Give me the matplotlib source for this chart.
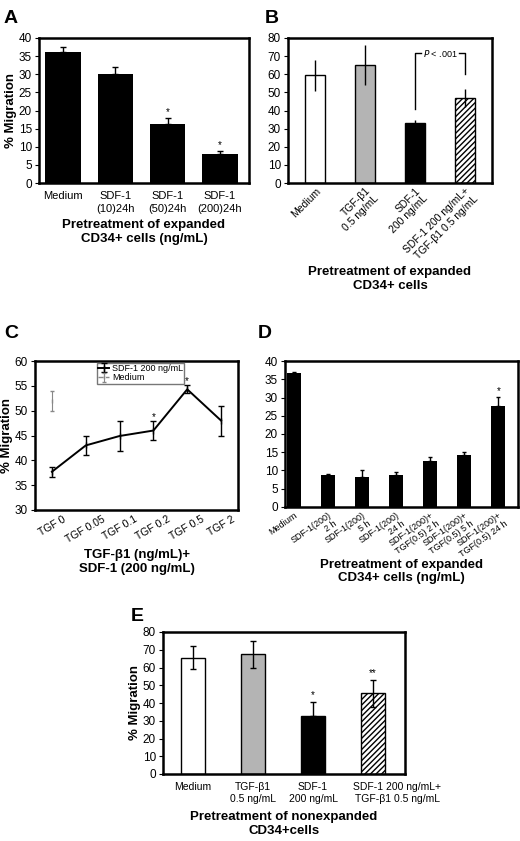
import numpy as np
import matplotlib
matplotlib.use("Agg")
import matplotlib.pyplot as plt

plt.rcParams['font.family'] = ['Liberation Sans', 'DejaVu Sans']
plt.rcParams['hatch.linewidth'] = 1.0

# Panel A data
a_labels = ["Medium", "SDF-1\n(10)24h", "SDF-1\n(50)24h", "SDF-1\n(200)24h"]
a_values = [36.2, 30.2, 16.2, 8.0]
a_err = [1.3, 1.8, 1.7, 0.9]
a_stars = ["", "", "*", "*"]

# Panel B data
b_labels = ["Medium", "TGF-β1\n0.5 ng/mL", "SDF-1\n200 ng/mL", "SDF-1 200 ng/mL+\nTGF-β1 0.5 ng/mL"]
b_values = [59.5, 65.0, 33.0, 47.0]
b_err = [8.5, 11.0, 1.8, 5.0]

# Panel C data
c_labels = ["TGF 0", "TGF 0.05", "TGF 0.1", "TGF 0.2", "TGF 0.5", "TGF 2"]
c_values = [37.7, 43.0, 44.9, 46.0, 54.3, 48.0]
c_err = [1.0, 2.0, 3.0, 2.0, 0.8, 3.0]
c_stars = ["", "", "", "*", "*", ""]
c_medium = 52.0
c_medium_err = 2.0

# Panel D data
d_labels = ["Medium", "SDF-1(200)\n2 h", "SDF-1(200)\n5 h", "SDF-1(200)\n24 h",
            "SDF-1(200)+\nTGF(0.5) 2 h", "SDF-1(200)+\nTGF(0.5) 5 h", "SDF-1(200)+\nTGF(0.5) 24 h"]
d_values = [36.8, 8.7, 8.3, 8.7, 12.5, 14.3, 27.7]
d_err = [0.3, 0.3, 1.9, 1.0, 1.2, 0.8, 2.4]
d_stars = ["", "", "", "", "", "", "*"]

# Panel E data
e_labels = ["Medium", "TGF-β1\n0.5 ng/mL", "SDF-1\n200 ng/mL", "SDF-1 200 ng/mL+\nTGF-β1 0.5 ng/mL"]
e_values = [65.5, 67.5, 32.5, 45.5]
e_err_lo = [6.5, 7.5, 0.0, 7.5]
e_err_hi = [6.5, 7.5, 8.0, 7.5]
e_stars = ["", "", "*", "**"]

fills = ["white", "#b4b4b4", "black", "white"]
hatches = [None, None, None, "//////"]

W, H = 520, 841
fig = plt.figure(figsize=(5.2, 8.41), dpi=100)


def make_axes(left, right, top, bottom):
    ax = fig.add_axes([left / W, 1 - bottom / H, (right - left) / W, (bottom - top) / H])
    for s in ax.spines.values():
        s.set_linewidth(1.8)
    ax.tick_params(axis="y", labelsize=8.5, length=3, width=0.8, pad=2)
    return ax


def letter(x, y, s):
    fig.text(x / W, 1 - y / H, s, fontsize=14, fontweight="bold", va="top", ha="left")


# ---- A ----
ax = make_axes(39, 249, 38, 183)
x = np.arange(len(a_values))
ax.bar(x, a_values, width=0.68, color="black")
ax.errorbar(x, a_values, yerr=[np.zeros(len(a_err)), a_err], fmt="none",
            ecolor="black", elinewidth=1, capsize=2.5)
for i, s in enumerate(a_stars):
    if s:
        ax.text(x[i], a_values[i] + a_err[i] + 0.2, s, ha="center", va="bottom", fontsize=7)
ax.set_xlim(-0.46, 3.56)
ax.set_ylim(0, 40)
ax.set_yticks(range(0, 41, 5))
ax.set_xticks(x)
ax.set_xticklabels(a_labels, fontsize=8, linespacing=1.3)
ax.tick_params(axis="x", length=0, pad=6)
ax.set_ylabel("% Migration", fontsize=9.5, fontweight="bold", labelpad=1)
ax.set_xlabel("Pretreatment of expanded\nCD34+ cells (ng/mL)", fontsize=9.5,
              fontweight="bold", labelpad=4)
letter(4, 10, "A")

# ---- B ----
ax = make_axes(288, 492, 38, 183)
x = np.arange(len(b_values))
ax.bar(x, b_values, width=0.4, color=fills, edgecolor="black", linewidth=1,
       hatch=hatches)
ax.errorbar(x, b_values, yerr=b_err, fmt="none", ecolor="black", elinewidth=1, capsize=0)
ax.plot([2, 2, 2.13], [41, 71.5, 71.5], color="black", lw=1)
ax.plot([2.88, 3, 3], [71.5, 71.5, 60], color="black", lw=1)
ax.text(2.51, 71.5, "$\\it{P}$ < .001", ha="center", va="center", fontsize=6.5)
ax.set_xlim(-0.55, 3.55)
ax.set_ylim(0, 80)
ax.set_yticks(range(0, 81, 10))
ax.set_xticks(x)
ax.set_xticklabels(b_labels, rotation=45, ha="right", rotation_mode="anchor",
                   fontsize=7.5, linespacing=1.15)
ax.tick_params(axis="x", length=0, pad=2)
ax.set_xlabel("Pretreatment of expanded\nCD34+ cells", fontsize=9.5,
              fontweight="bold", labelpad=2)
letter(265, 10, "B")

# ---- C ----
ax = make_axes(35, 238, 361, 510)
x = np.arange(len(c_values))
ax.errorbar(x, c_values, yerr=c_err, color="black", lw=1.4, elinewidth=1, capsize=2,
            marker="|", markersize=4, label="SDF-1 200 ng/mL")
ax.errorbar([0], [c_medium], yerr=[c_medium_err], color="#888888", ls="--", lw=1,
            elinewidth=0.8, capsize=1.5, marker="|", markersize=3, label="Medium")
for i, s in enumerate(c_stars):
    if s:
        ax.text(x[i], c_values[i] + c_err[i] - 0.2, s, ha="center", va="bottom", fontsize=7)
ax.legend(loc="upper center", bbox_to_anchor=(0.52, 0.995), fontsize=6.5,
          frameon=True, fancybox=False, edgecolor="#777777", framealpha=1,
          borderpad=0.15, handlelength=1.2, handletextpad=0.3, labelspacing=0.05,
          borderaxespad=0.1)
ax.set_xlim(-0.5, 5.5)
ax.set_ylim(30, 60)
ax.set_yticks(range(30, 61, 5))
ax.set_xticks(x)
ax.set_xticklabels(c_labels, rotation=30, ha="center", fontsize=7.5)
ax.tick_params(axis="x", length=0, pad=3)
ax.set_ylabel("% Migration", fontsize=9.5, fontweight="bold", labelpad=1)
ax.set_xlabel("TGF-β1 (ng/mL)+\nSDF-1 (200 ng/mL)", fontsize=9.5,
              fontweight="bold", labelpad=3)
letter(4, 325, "C")

# ---- D ----
ax = make_axes(285, 518, 361, 507)
x = np.arange(len(d_values))
ax.bar(x, d_values, width=0.41, color="black")
ax.errorbar(x, d_values, yerr=[np.zeros(len(d_err)), d_err], fmt="none",
            ecolor="black", elinewidth=1, capsize=1.5)
for i, s in enumerate(d_stars):
    if s:
        ax.text(x[i], d_values[i] + d_err[i] + 0.2, s, ha="center", va="bottom", fontsize=7)
ax.set_xlim(-0.27, 6.58)
ax.set_ylim(0, 40)
ax.set_yticks(range(0, 41, 5))
ax.set_xticks(x)
ax.set_xticklabels(d_labels, rotation=35, ha="right", rotation_mode="anchor",
                   fontsize=6.5, linespacing=1.05)
ax.tick_params(axis="x", length=0, pad=3)
ax.set_xlabel("Pretreatment of expanded\nCD34+ cells (ng/mL)", fontsize=9.5,
              fontweight="bold", labelpad=0)
letter(258, 325, "D")

# ---- E ----
ax = make_axes(163, 405, 632, 774)
x = np.arange(len(e_values))
ax.bar(x, e_values, width=0.4, color=fills, edgecolor="black", linewidth=1,
       hatch=hatches)
ax.errorbar(x, e_values, yerr=[e_err_lo, e_err_hi], fmt="none", ecolor="black",
            elinewidth=1, capsize=2.5)
for i, s in enumerate(e_stars):
    if s:
        ax.text(x[i], e_values[i] + e_err_hi[i] + 1, s, ha="center", va="bottom", fontsize=7)
ax.set_xlim(-0.5, 3.53)
ax.set_ylim(0, 80)
ax.set_yticks(range(0, 81, 10))
# last label sits to the right of its bar in the original
e_tick_pos = list(x[:3]) + [3.4]
ax.set_xticks(e_tick_pos)
ax.set_xticklabels(e_labels, fontsize=7.5, linespacing=1.2)
ax.tick_params(axis="x", length=0, pad=6)
ax.set_ylabel("% Migration", fontsize=9.5, fontweight="bold", labelpad=1)
ax.set_xlabel("Pretreatment of nonexpanded\nCD34+cells", fontsize=9.5,
              fontweight="bold", labelpad=5)
letter(131, 608, "E")

fig.savefig("out.png", dpi=100)
